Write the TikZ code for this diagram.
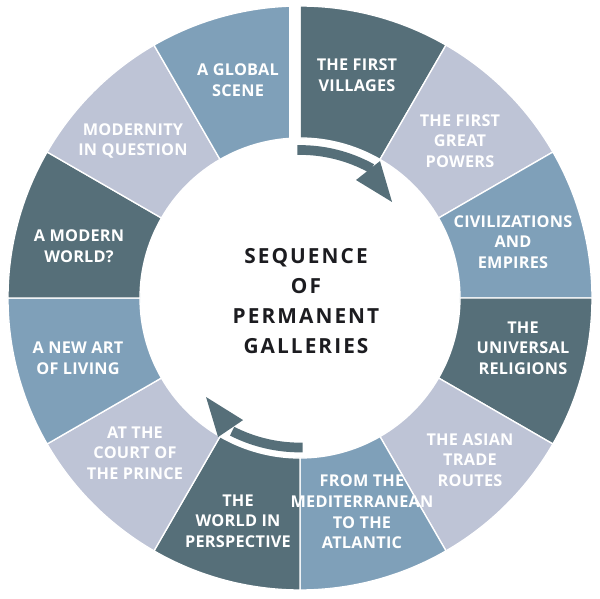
\documentclass[tikz,border=0pt]{standalone}
\usepackage{fontspec}
\setmainfont{Open Sans}
\newfontfamily\galfont{Open Sans}[LetterSpace=1.5]
\newfontfamily\titlefont{Open Sans}[LetterSpace=10]
\definecolor{galDark}{HTML}{566F79}
\definecolor{galMid}{HTML}{7FA0B9}
\definecolor{galLight}{HTML}{BEC4D6}
\definecolor{galInk}{HTML}{1C1C20}

\begin{document}
\begin{tikzpicture}[
  x=0.75pt, y=0.75pt,
  line join=round,
  sector/.style={draw=white, line width=1pt},
  seg label/.style={text=white, align=center, inner sep=0pt,
    font=\galfont\bfseries\fontsize{12.2}{15.5}\selectfont},
  turn arrow/.style={draw=galDark, line width=7.3pt},
  turn head/.style={fill=galDark}
]
\useasboundingbox (-300,-301) rectangle (300,298);

% Ring of the twelve galleries, clockwise from the top.
\foreach \i/\c in {0/galDark,1/galLight,2/galMid,3/galDark,4/galLight,5/galMid,
    6/galDark,7/galLight,8/galMid,9/galDark,10/galLight,11/galMid}
{
  \pgfmathsetmacro\sa{90-30*\i}
  \pgfmathsetmacro\ea{60-30*\i}
  \filldraw[sector, fill=\c]
    (\sa:160) -- (\sa:292)
      arc[start angle=\sa, end angle=\ea, radius=292]
      -- (\ea:160)
      arc[start angle=\ea, end angle=\sa, radius=160] -- cycle;
}

% Wider gap where the sequence begins and ends.
\fill[white] (-11,156) rectangle (0,300);

% Gallery names, placed after the ring so no sector covers them.
\foreach \i/\lx/\ly/\t in {
    0/57/223/{THE FIRST\\VILLAGES},
    1/160/157/{THE FIRST\\GREAT\\POWERS},
    2/213/56/{CIVILIZATIONS\\AND\\EMPIRES},
    3/223/-50/{THE\\UNIVERSAL\\RELIGIONS},
    4/170/-162/{THE ASIAN\\TRADE\\ROUTES},
    5/62/-214/{FROM THE\\MEDITERRANEAN\\TO THE\\ATLANTIC},
    6/-62/-223/{THE\\WORLD IN\\PERSPECTIVE},
    7/-165/-155/{AT THE\\COURT OF\\THE PRINCE},
    8/-222/-60/{A NEW ART\\OF LIVING},
    9/-221/52/{A MODERN\\WORLD?},
    10/-167/157/{MODERNITY\\IN QUESTION},
    11/-62/218/{A GLOBAL\\SCENE}}
  \node[seg label] (gal\i) at (\lx,\ly) {\t};

% Turning arrows inside the ring.
\draw[turn arrow] (91:148) arc[start angle=91, end angle=61, radius=148];
\fill[turn head] (64.6:130.6) -- (59.7:158.6) -- (46.2:133) -- cycle;
\draw[turn arrow] (-89:149.5) arc[start angle=-89, end angle=-117, radius=149.5];
\fill[turn head] (-115:134.7) -- (-120.5:161.4) -- (-133.5:136.5) -- cycle;

\node[text=galInk, align=center, inner sep=0pt,
  font=\titlefont\bfseries\fontsize{15.6}{22.3}\selectfont]
  (title) at (6,-3) {SEQUENCE\\OF\\PERMANENT\\GALLERIES};
\end{tikzpicture}
\end{document}
